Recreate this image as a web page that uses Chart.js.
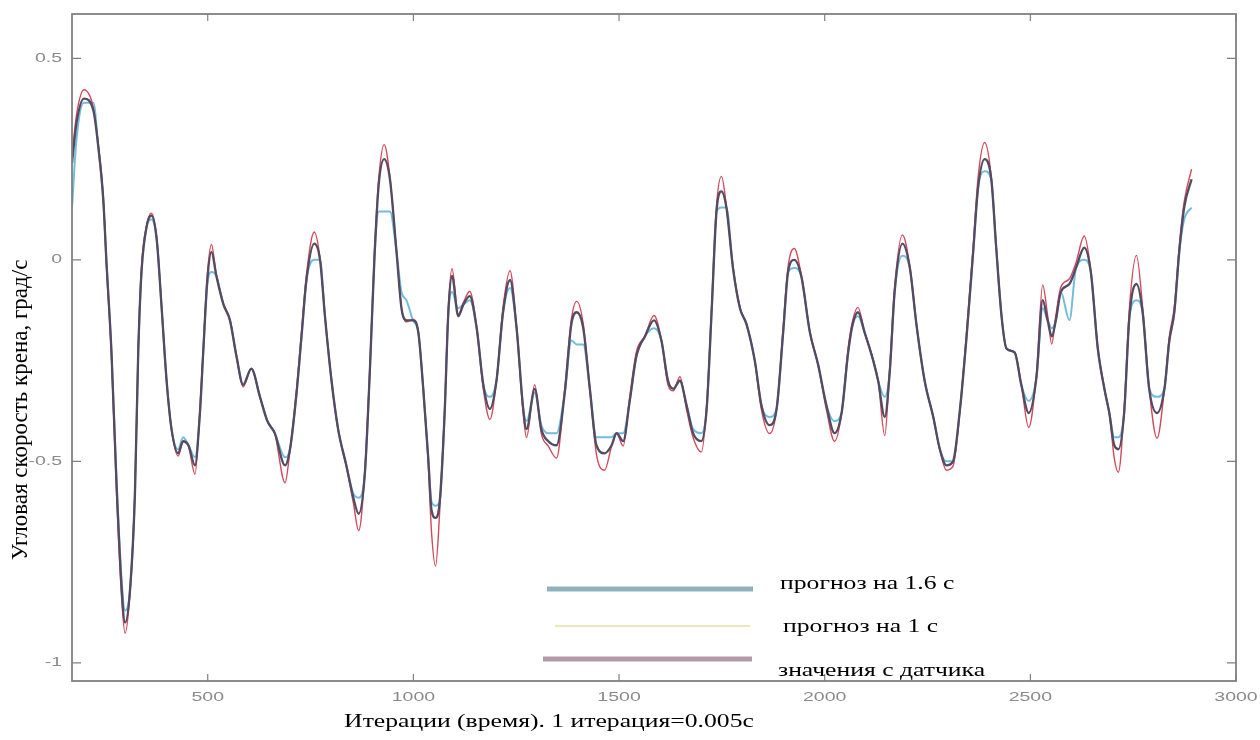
<!DOCTYPE html>
<html>
<head>
<meta charset="utf-8">
<script src="https://cdn.jsdelivr.net/npm/chart.js"></script>
<style>
  html, body { margin: 0; padding: 0; background: #fff; }
  #wrap { width: 1260px; height: 740px; position: relative; }
</style>
</head>
<body>
<div id="wrap"><canvas id="chart"></canvas></div>
<script>
// итерации (ось X) — общие для всех трёх рядов
const ITER = [
  170, 181, 199, 222, 234, 246, 254, 266, 278, 291, 299, 311, 323, 331, 339, 351, 363, 376, 388, 400,
  412, 428, 440, 453, 469, 481, 489, 499, 509, 521, 538, 554, 570, 586, 606, 627, 645, 663, 688, 700,
  716, 728, 740, 759, 773, 785, 801, 817, 837, 854, 867, 882, 894, 906, 916, 929, 943, 959, 971, 983,
  999, 1012, 1024, 1036, 1044, 1054, 1064, 1076, 1085, 1094, 1109, 1122, 1137, 1154, 1170, 1186, 1202, 1218, 1235, 1251,
  1267, 1275, 1295, 1311, 1328, 1348, 1368, 1384, 1397, 1413, 1429, 1445, 1465, 1482, 1494, 1510, 1526, 1542, 1563, 1585,
  1603, 1619, 1632, 1648, 1664, 1680, 1700, 1713, 1725, 1737, 1749, 1761, 1777, 1794, 1810, 1830, 1846, 1866, 1883, 1899,
  1911, 1926, 1943, 1964, 1984, 2004, 2024, 2041, 2057, 2068, 2081, 2097, 2118, 2130, 2146, 2158, 2170, 2189, 2207, 2223,
  2243, 2264, 2280, 2296, 2312, 2328, 2345, 2361, 2373, 2389, 2405, 2417, 2430, 2442, 2462, 2478, 2496, 2515, 2530, 2542,
  2552, 2562, 2574, 2595, 2611, 2631, 2647, 2664, 2680, 2692, 2704, 2714, 2728, 2741, 2758, 2773, 2789, 2808, 2826, 2838,
  2850, 2862, 2874, 2892
];

// значения с датчика, град/с
const SENSOR = [
  0.24, 0.34, 0.40, 0.37, 0.28, 0.15, -0.01, -0.23, -0.55, -0.82, -0.90, -0.82, -0.58, -0.23, -0.03, 0.08, 0.11, 0.05, -0.12, -0.30,
  -0.42, -0.48, -0.45, -0.46, -0.51, -0.38, -0.23, -0.05, 0.02, -0.04, -0.11, -0.15, -0.24, -0.31, -0.27, -0.34, -0.40, -0.43, -0.51, -0.47,
  -0.33, -0.19, -0.05, 0.04, 0.00, -0.14, -0.30, -0.42, -0.51, -0.59, -0.63, -0.53, -0.28, 0.02, 0.19, 0.25, 0.20, 0.02, -0.12, -0.15,
  -0.15, -0.18, -0.32, -0.49, -0.62, -0.64, -0.60, -0.38, -0.13, -0.04, -0.14, -0.11, -0.09, -0.17, -0.31, -0.37, -0.30, -0.13, -0.05, -0.17,
  -0.37, -0.42, -0.32, -0.42, -0.45, -0.46, -0.33, -0.16, -0.13, -0.17, -0.32, -0.46, -0.48, -0.46, -0.43, -0.45, -0.35, -0.24, -0.19, -0.15,
  -0.20, -0.30, -0.32, -0.30, -0.36, -0.43, -0.45, -0.37, -0.13, 0.12, 0.17, 0.13, -0.02, -0.12, -0.16, -0.25, -0.36, -0.41, -0.37, -0.18,
  -0.03, 0.00, -0.04, -0.18, -0.26, -0.36, -0.43, -0.38, -0.23, -0.16, -0.13, -0.18, -0.25, -0.30, -0.39, -0.28, -0.08, 0.04, -0.02, -0.16,
  -0.30, -0.39, -0.47, -0.51, -0.50, -0.38, -0.19, 0.02, 0.18, 0.25, 0.20, 0.03, -0.14, -0.22, -0.23, -0.31, -0.38, -0.29, -0.10, -0.15,
  -0.19, -0.15, -0.08, -0.06, -0.02, 0.03, -0.03, -0.22, -0.32, -0.38, -0.46, -0.47, -0.38, -0.14, -0.06, -0.13, -0.32, -0.38, -0.32, -0.20,
  -0.13, 0.02, 0.13, 0.20
];

// прогноз на 1 с
const FC_1S = [
  0.26, 0.36, 0.422, 0.377, 0.286, 0.155, -0.017, -0.239, -0.573, -0.845, -0.926, -0.825, -0.573, -0.219, -0.017, 0.084, 0.116, 0.054, -0.118, -0.30,
  -0.421, -0.487, -0.452, -0.462, -0.532, -0.371, -0.219, -0.037, 0.038, -0.037, -0.108, -0.148, -0.239, -0.315, -0.27, -0.34, -0.40, -0.431, -0.553, -0.472,
  -0.32, -0.179, -0.037, 0.069, 0.003, -0.138, -0.30, -0.421, -0.512, -0.603, -0.672, -0.523, -0.27, 0.033, 0.205, 0.286, 0.205, 0.023, -0.118, -0.154,
  -0.148, -0.179, -0.32, -0.502, -0.674, -0.76, -0.624, -0.371, -0.118, -0.022, -0.135, -0.105, -0.078, -0.169, -0.32, -0.396, -0.30, -0.118, -0.027, -0.169,
  -0.381, -0.441, -0.31, -0.431, -0.462, -0.492, -0.32, -0.148, -0.103, -0.159, -0.32, -0.482, -0.522, -0.462, -0.431, -0.462, -0.34, -0.229, -0.189, -0.138,
  -0.199, -0.31, -0.325, -0.29, -0.371, -0.441, -0.477, -0.361, -0.118, 0.134, 0.207, 0.134, -0.017, -0.118, -0.159, -0.249, -0.371, -0.431, -0.371, -0.169,
  -0.017, 0.028, -0.037, -0.179, -0.26, -0.371, -0.45, -0.381, -0.219, -0.15, -0.118, -0.179, -0.249, -0.30, -0.436, -0.27, -0.068, 0.062, -0.017, -0.159,
  -0.30, -0.391, -0.472, -0.522, -0.512, -0.381, -0.179, 0.033, 0.205, 0.291, 0.205, 0.033, -0.138, -0.219, -0.229, -0.31, -0.416, -0.28, -0.062, -0.138,
  -0.209, -0.138, -0.068, -0.047, -0.007, 0.059, -0.027, -0.219, -0.32, -0.381, -0.492, -0.527, -0.371, -0.118, 0.011, -0.118, -0.32, -0.443, -0.32, -0.189,
  -0.118, 0.033, 0.144, 0.225
];

// прогноз на 1.6 с
const FC_16S = [
  0.13, 0.30, 0.39, 0.39, 0.28, 0.15, -0.01, -0.23, -0.54, -0.80, -0.87, -0.82, -0.58, -0.23, -0.03, 0.08, 0.10, 0.05, -0.12, -0.30,
  -0.42, -0.47, -0.44, -0.46, -0.49, -0.38, -0.23, -0.06, -0.03, -0.04, -0.11, -0.15, -0.24, -0.31, -0.27, -0.34, -0.40, -0.43, -0.49, -0.47,
  -0.33, -0.19, -0.05, 0.00, 0.00, -0.14, -0.30, -0.42, -0.51, -0.58, -0.59, -0.53, -0.28, 0.02, 0.12, 0.12, 0.12, 0.02, -0.08, -0.10,
  -0.15, -0.18, -0.32, -0.49, -0.60, -0.61, -0.60, -0.38, -0.13, -0.08, -0.12, -0.11, -0.10, -0.17, -0.31, -0.34, -0.30, -0.13, -0.07, -0.17,
  -0.37, -0.40, -0.33, -0.41, -0.43, -0.43, -0.33, -0.20, -0.21, -0.21, -0.32, -0.44, -0.44, -0.44, -0.43, -0.43, -0.35, -0.24, -0.19, -0.17,
  -0.20, -0.30, -0.32, -0.30, -0.36, -0.42, -0.43, -0.37, -0.13, 0.12, 0.13, 0.13, -0.02, -0.12, -0.16, -0.25, -0.36, -0.39, -0.37, -0.18,
  -0.03, -0.02, -0.04, -0.18, -0.26, -0.36, -0.40, -0.38, -0.23, -0.16, -0.14, -0.18, -0.25, -0.30, -0.34, -0.28, -0.08, 0.01, -0.02, -0.16,
  -0.30, -0.39, -0.47, -0.50, -0.50, -0.38, -0.19, 0.02, 0.18, 0.22, 0.20, 0.03, -0.14, -0.22, -0.23, -0.31, -0.35, -0.29, -0.12, -0.15,
  -0.17, -0.15, -0.08, -0.15, -0.02, 0.00, -0.03, -0.22, -0.32, -0.38, -0.44, -0.44, -0.38, -0.14, -0.10, -0.13, -0.32, -0.34, -0.32, -0.20,
  -0.13, 0.02, 0.10, 0.13
];

const X_TICKS = [500, 1000, 1500, 2000, 2500, 3000];
const X_TICK_LABELS = ['500', '1000', '1500', '2000', '2500', '3000'];
const Y_TICKS = [-1, -0.5, 0, 0.5];
const Y_TICK_LABELS = ['-1', '-0.5', '0', '0.5'];

const LEGEND_LABELS = ['прогноз на 1.6 с', 'прогноз на 1 с', 'значения с датчика'];
const X_TITLE = 'Итерации (время). 1 итерация=0.005с';
const Y_TITLE = 'Угловая скорость крена, град/с';

const SERIF = '"Liberation Serif", "Times New Roman", serif';
const SANS = '"Liberation Sans", Arial, sans-serif';

const pts = ys => ITER.map((x, i) => ({ x: x, y: ys[i] }));

// текст, растянутый по горизонтали
function wideText(ctx, text, x, y, sx, align) {
  ctx.save();
  ctx.translate(x, y);
  ctx.scale(sx, 1);
  ctx.textAlign = align;
  ctx.fillText(text, 0, 0);
  ctx.restore();
}

// рамка, засечки внутрь, подписи осей и легенда в стиле MATLAB
const boxAxes = {
  id: 'boxAxes',
  afterDraw(chart) {
    const { ctx, chartArea: a, scales: { x, y } } = chart;
    ctx.save();
    ctx.strokeStyle = '#808080';
    ctx.lineWidth = 1.8;
    ctx.strokeRect(a.left, a.top, a.right - a.left, a.bottom - a.top);

    ctx.lineWidth = 1.2;
    ctx.beginPath();
    X_TICKS.forEach(v => {
      const px = x.getPixelForValue(v);
      ctx.moveTo(px, a.bottom); ctx.lineTo(px, a.bottom - 7);
      ctx.moveTo(px, a.top); ctx.lineTo(px, a.top + 7);
    });
    Y_TICKS.forEach(v => {
      const py = y.getPixelForValue(v);
      ctx.moveTo(a.left, py); ctx.lineTo(a.left + 9, py);
      ctx.moveTo(a.right, py); ctx.lineTo(a.right - 9, py);
    });
    ctx.stroke();

    // подписи делений
    ctx.fillStyle = '#8a8a8a';
    ctx.font = '13px ' + SANS;
    ctx.textBaseline = 'middle';
    X_TICKS.forEach((v, i) => wideText(ctx, X_TICK_LABELS[i], x.getPixelForValue(v), a.bottom + 16, 1.5, 'center'));
    Y_TICKS.forEach((v, i) => wideText(ctx, Y_TICK_LABELS[i], a.left - 10, y.getPixelForValue(v), 1.5, 'right'));

    // названия осей
    ctx.fillStyle = '#000';
    ctx.font = '19px ' + SERIF;
    wideText(ctx, X_TITLE, 549, 722, 1.35, 'center');
    ctx.save();
    ctx.translate(21, 410);
    ctx.rotate(-Math.PI / 2);
    ctx.font = '23px ' + SERIF;
    ctx.textAlign = 'center';
    ctx.fillText(Y_TITLE, 0, 0);
    ctx.restore();

    // легенда
    const rows = [
      { y: 589, x0: 547, x1: 753, color: '#8fb2bd', w: 5, ty: 584, tx: 780 },
      { y: 626, x0: 555, x1: 750, color: '#e6e1a6', w: 1.5, ty: 627, tx: 783 },
      { y: 659, x0: 543, x1: 752, color: '#b39aa6', w: 5, ty: 671, tx: 778 }
    ];
    rows.forEach((r, i) => {
      ctx.strokeStyle = r.color;
      ctx.lineWidth = r.w;
      ctx.beginPath();
      ctx.moveTo(r.x0, r.y); ctx.lineTo(r.x1, r.y);
      ctx.stroke();
      ctx.font = '19px ' + SERIF;
      ctx.fillStyle = '#000';
      wideText(ctx, LEGEND_LABELS[i], r.tx, r.ty, 1.35, 'left');
    });
    ctx.restore();
  }
};

new Chart(document.getElementById('chart'), {
  type: 'line',
  data: {
    datasets: [
      {
        label: LEGEND_LABELS[2],
        data: pts(SENSOR),
        borderColor: '#544a62',
        borderWidth: 2.3,
        pointRadius: 0,
        cubicInterpolationMode: 'monotone',
        order: 0
      },
      {
        label: LEGEND_LABELS[1],
        data: pts(FC_1S),
        borderColor: '#cf4a5a',
        borderWidth: 1.4,
        pointRadius: 0,
        cubicInterpolationMode: 'monotone',
        order: 1
      },
      {
        label: LEGEND_LABELS[0],
        data: pts(FC_16S),
        borderColor: '#72bcdc',
        borderWidth: 2,
        pointRadius: 0,
        cubicInterpolationMode: 'monotone',
        order: 2
      }
    ]
  },
  options: {
    responsive: true,
    maintainAspectRatio: false,
    animation: false,
    events: [],
    layout: { padding: { top: 14, right: 24, left: 0, bottom: 0 } },
    plugins: { legend: { display: false }, tooltip: { enabled: false } },
    scales: {
      x: {
        type: 'linear',
        min: 170,
        max: 3000,
        grid: { display: false },
        border: { display: false },
        ticks: { display: false },
        afterBuildTicks: s => { s.ticks = X_TICKS.map(v => ({ value: v })); },
        afterFit: s => { s.height = 59; }
      },
      y: {
        type: 'linear',
        min: -1.045,
        max: 0.61,
        grid: { display: false },
        border: { display: false },
        ticks: { display: false },
        afterBuildTicks: s => { s.ticks = Y_TICKS.map(v => ({ value: v })); },
        afterFit: s => { s.width = 72; }
      }
    }
  },
  plugins: [boxAxes]
});
</script>
</body>
</html>
